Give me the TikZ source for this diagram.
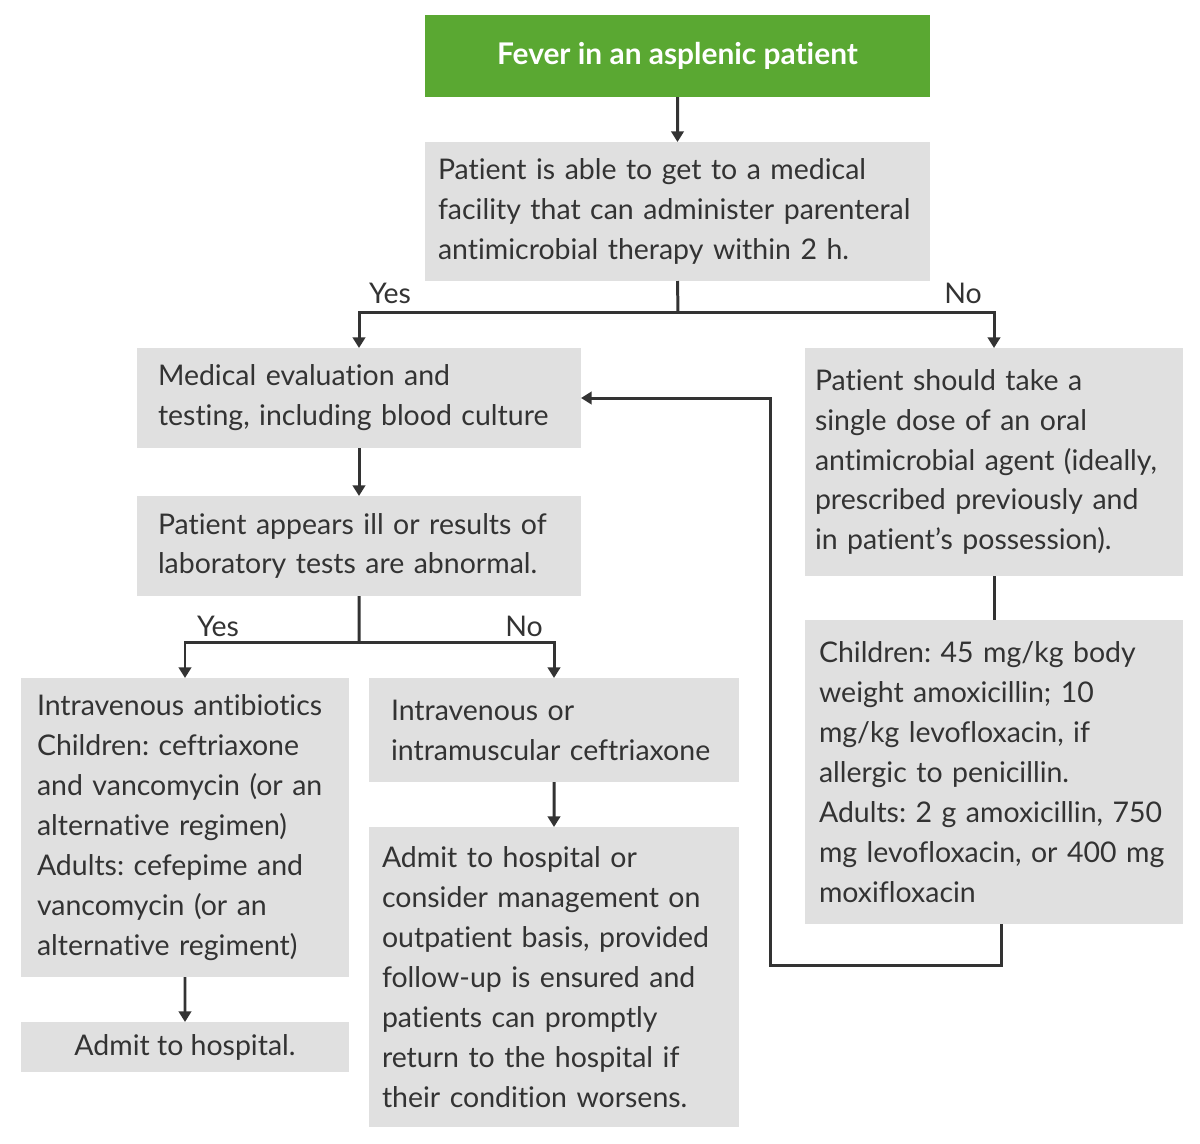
\documentclass[tikz,border=0pt]{standalone}
\usepackage{fontspec}
\setmainfont{Lato}[Ligatures=NoCommon]
\usetikzlibrary{arrows.meta}
\definecolor{boxgray}{HTML}{E0E0E0}
\definecolor{startgreen}{HTML}{5AA832}
\definecolor{ink}{HTML}{333333}
\frenchspacing

\begin{document}
\begin{tikzpicture}[font=\fontsize{16.2}{22.7}\selectfont, text=ink,
  every node/.style={outer sep=0pt},
  box/.style={fill=boxgray, anchor=north west, align=left, inner ysep=0pt},
  link/.style={draw=ink, line width=1.7pt},
  arr/.style={link, -{Triangle[width=7pt,length=6pt]}}]
\useasboundingbox (0,0) rectangle (24,-22.86);

\node[fill=startgreen, anchor=north west, minimum width=10.1cm, minimum height=1.64cm, text=white, font=\fontsize{17}{20}\selectfont\bfseries] (start) at (8.5,-0.3) {Fever in an asplenic patient};
\node[box, text width=9.58cm, minimum height=2.78cm, inner xsep=0.26cm] (q1) at (8.5,-2.84) {Patient is able to get to a medical\\ facility that can administer parenteral\\ antimicrobial therapy within 2 h.};

\node (yes1) at (7.8,-5.86) {Yes};
\node (no1) at (19.26,-5.86) {No};

\node[box, text width=8.04cm, minimum height=2cm, inner xsep=0.42cm] (eval) at (2.74,-6.96) {Medical evaluation and\\ testing, including blood culture};
\node[box, text width=8.04cm, minimum height=2cm, inner xsep=0.42cm] (ill) at (2.74,-9.92) {Patient appears ill or results of\\ laboratory tests are abnormal.};

\node (yes2) at (4.36,-12.52) {Yes};
\node (no2) at (10.48,-12.52) {No};

\node[box, text width=5.92cm, minimum height=5.98cm, inner xsep=0.32cm] (ivab) at (0.42,-13.56) {Intravenous antibiotics\\ Children: ceftriaxone\\ and vancomycin (or an\\ alternative regimen)\\ Adults: cefepime and\\ vancomycin (or an\\ alternative regiment)};
\node[box, align=center, minimum width=6.56cm, minimum height=1cm] (admit) at (0.42,-20.44) {Admit to hospital.};
\node[box, text width=6.52cm, minimum height=2.08cm, inner xsep=0.44cm] (ivim) at (7.38,-13.56) {Intravenous or\\ intramuscular ceftriaxone};
\node[box, text width=6.88cm, minimum height=6cm, inner xsep=0.26cm] (consider) at (7.38,-16.54) {Admit to hospital or\\ consider management on\\ outpatient basis, provided\\ follow-up is ensured and\\ patients can promptly\\ return to the hospital if\\ their condition worsens.};

\node[box, text width=7.16cm, minimum height=4.56cm, inner xsep=0.2cm] (oral) at (16.1,-6.96) {Patient should take a\\ single dose of an oral\\ antimicrobial agent (ideally,\\ prescribed previously and\\ in patient’s possession).};
\node[box, text width=7cm, minimum height=6.08cm, inner xsep=0.28cm] (dose) at (16.1,-12.4) {Children: 45 mg/kg body\\ weight amoxicillin; 10\\ mg/kg levofloxacin, if\\ allergic to penicillin.\\ Adults: 2 g amoxicillin, 750\\ mg levofloxacin, or 400 mg\\ moxifloxacin};

\coordinate (split1) at (13.56,-6.24);
\coordinate (split2) at (7.18,-12.84);
\coordinate (loop) at (15.4,-19.3);

\draw[arr] (start) -- (q1);
\draw[link] (q1.south) -- (split1);
\draw[arr] (split1) -| (eval.north);
\draw[arr] (split1) -| (oral.north);
\draw[arr] (eval) -- (ill);
\draw[link] (ill.south) -- (split2);
\draw[arr] (split2) -| (ivab.north);
\draw[arr] (split2) -| (ivim.north);
\draw[arr] (ivab) -- (admit);
\draw[arr] (ivim) -- (consider);
\draw[link] (oral) -- (dose);
\draw[arr] ([xshift=0.14cm]dose.south) |- (loop) |- (eval.east);
\end{tikzpicture}
\end{document}
